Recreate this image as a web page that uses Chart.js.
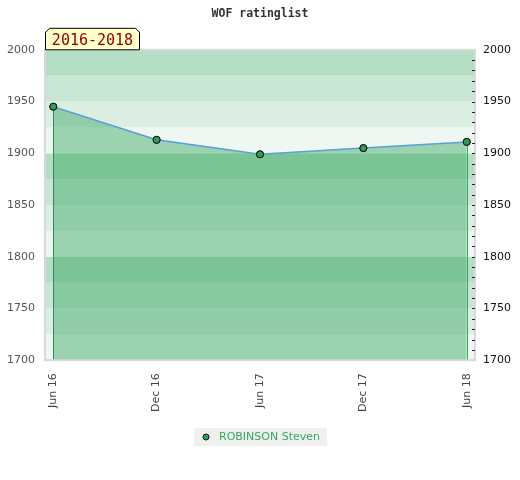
<!DOCTYPE html>
<html><head><meta charset="utf-8">
<script src="https://cdn.jsdelivr.net/npm/chart.js@4"></script>
<style>html,body{margin:0;padding:0;background:#fff}</style>
</head><body>
<canvas id="c" width="520" height="480"></canvas>
<script>
const categories = ["Jun 16", "Dec 16", "Jun 17", "Dec 17", "Jun 18"];
const ratings = [1945, 1913, 1899, 1905, 1911];
const playerName = "ROBINSON Steven";
const chartTitle = "WOF ratinglist";
const periodLabel = "2016-2018";
const yMin = 1700, yMax = 2000, yLabelStep = 50, yMinorStep = 10, bandStep = 25;

const bandColors = ["#eef7f1", "#dbeee2", "#c9e6d4", "#b3dec3"];
const pointColor = '#2f9e55';

const decorPlugin = {
  id: 'decor',
  beforeDraw(chart) {
    const ctx = chart.ctx, a = chart.chartArea, y = chart.scales.y;
    ctx.save();
    for (let v = yMin; v < yMax; v += bandStep) {
      const idx = Math.round(((v - yMin) % 100) / bandStep);
      const y0 = y.getPixelForValue(v), y1 = y.getPixelForValue(v + bandStep);
      ctx.fillStyle = bandColors[idx];
      ctx.fillRect(a.left, y1, a.right - a.left, y0 - y1);
    }
    ctx.restore();
  },
  afterDatasetsDraw(chart) {
    const ctx = chart.ctx, a = chart.chartArea;
    const meta = chart.getDatasetMeta(0);
    const pts = meta.data;
    ctx.save();
    ctx.lineWidth = 1;
    [[pts[0], '#2e8b57'], [pts[pts.length - 1], '#36a85c']].forEach(([p, col]) => {
      const x = Math.round(p.x) + 0.5;
      ctx.strokeStyle = col;
      ctx.beginPath();
      ctx.moveTo(x, p.y + 4);
      ctx.lineTo(x, a.bottom);
      ctx.stroke();
    });
    pts.forEach(p => p.draw(ctx, a));
    // border
    ctx.strokeStyle = '#d9d9d9';
    ctx.lineWidth = 2;
    ctx.strokeRect(a.left, a.top, a.right - a.left, a.bottom - a.top);
    // right minor ticks inside area
    const y2 = chart.scales.y2;
    ctx.strokeStyle = '#222';
    ctx.lineWidth = 1;
    y2.ticks.forEach(t => {
      if (t.value === yMin || t.value === yMax) return;
      const py = Math.round(y2.getPixelForValue(t.value)) + 0.5;
      ctx.beginPath();
      ctx.moveTo(a.right - 3, py);
      ctx.lineTo(a.right, py);
      ctx.stroke();
    });
    ctx.restore();
  },
  afterDraw(chart) {
    const ctx = chart.ctx, a = chart.chartArea;
    // period label box
    const x0 = a.left + 0.5, x1 = a.left + 94.5, yb = a.top, yt = a.top - 21.5, c = 4;
    ctx.save();
    ctx.beginPath();
    ctx.moveTo(x0, yb);
    ctx.lineTo(x0, yt + c);
    ctx.lineTo(x0 + c, yt);
    ctx.lineTo(x1 - c, yt);
    ctx.lineTo(x1, yt + c);
    ctx.lineTo(x1, yb);
    ctx.closePath();
    ctx.fillStyle = '#ffffcc';
    ctx.fill();
    ctx.strokeStyle = '#000';
    ctx.lineWidth = 1;
    ctx.stroke();
    ctx.fillStyle = '#8b0000';
    ctx.font = '15px "DejaVu Sans Mono"';
    ctx.textAlign = 'center';
    ctx.textBaseline = 'middle';
    ctx.fillText(periodLabel, (x0 + x1) / 2, yt + 12.5);

    // legend
    ctx.font = '11px "DejaVu Sans"';
    const tw = ctx.measureText(playerName).width;
    const boxW = tw + 32, boxH = 18;
    const cx = (a.left + a.right) / 2;
    const bx = Math.round(cx - boxW / 2), by = 428;
    ctx.fillStyle = '#f0f0f0';
    ctx.fillRect(bx, by, boxW, boxH);
    ctx.beginPath();
    ctx.arc(bx + 12, by + 9, 3, 0, Math.PI * 2);
    ctx.fillStyle = pointColor;
    ctx.fill();
    ctx.strokeStyle = '#111';
    ctx.lineWidth = 1;
    ctx.stroke();
    ctx.fillStyle = '#36a85c';
    ctx.textAlign = 'left';
    ctx.textBaseline = 'middle';
    ctx.fillText(playerName, bx + 25, by + 9.5);
    ctx.restore();
  }
};

new Chart(document.getElementById('c'), {
  type: 'line',
  data: {
    datasets: [{
      label: playerName,
      data: ratings.map((v, i) => ({ x: i, y: v })),
      borderColor: '#5a9fd8',
      borderWidth: 1.5,
      backgroundColor: 'rgba(50,165,93,0.44)',
      fill: 'start',
      tension: 0,
      pointRadius: 3.5,
      pointBackgroundColor: pointColor,
      pointBorderColor: '#111',
      pointBorderWidth: 1,
      yAxisID: 'y'
    }]
  },
  options: {
    responsive: false,
    devicePixelRatio: 1,
    animation: false,
    layout: { padding: { top: 0, bottom: 55, left: 0, right: 0 } },
    plugins: {
      title: {
        display: true,
        text: chartTitle,
        color: '#333',
        font: { family: '"DejaVu Sans Mono"', size: 11.5, weight: 'bold' },
        padding: { top: 7, bottom: 29 }
      },
      legend: { display: false },
      tooltip: { enabled: false }
    },
    scales: {
      x: {
        type: 'linear',
        min: -0.08,
        max: 4.08,
        grid: { display: false, drawTicks: false },
        border: { display: false },
        afterBuildTicks(scale) {
          scale.ticks = categories.map((c, i) => ({ value: i }));
        },
        ticks: {
          autoSkip: false,
          minRotation: 90,
          maxRotation: 90,
          padding: 13,
          color: '#444',
          font: { family: '"DejaVu Sans"', size: 11 },
          callback: v => categories[v]
        }
      },
      y: {
        position: 'left',
        min: yMin,
        max: yMax,
        grid: { display: false, drawTicks: false },
        border: { display: false },
        afterFit(scale) { scale.width = 45; },
        ticks: {
          stepSize: yLabelStep,
          padding: 10,
          color: '#555',
          font: { family: '"DejaVu Sans"', size: 11 },
          callback: v => String(v)
        }
      },
      y2: {
        position: 'right',
        min: yMin,
        max: yMax,
        grid: { display: false, drawTicks: false },
        border: { display: false },
        afterFit(scale) { scale.width = 45; },
        ticks: {
          stepSize: yMinorStep,
          autoSkip: false,
          padding: 8,
          color: '#111',
          font: { family: '"DejaVu Sans"', size: 11 },
          callback: v => (v % yLabelStep === 0 ? String(v) : '')
        }
      }
    }
  },
  plugins: [decorPlugin]
});
</script>
</body></html>
